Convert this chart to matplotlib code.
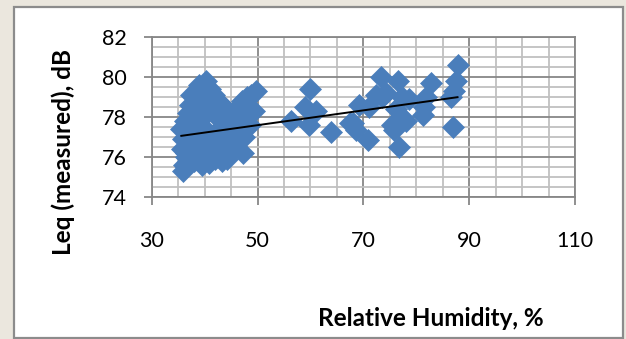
# Scatter of measured Leq against relative humidity, with a linear trend line

import numpy as np
import matplotlib.pyplot as plt
from matplotlib.patches import Rectangle
from matplotlib.ticker import MultipleLocator

# Relative humidity (%) and measured Leq (dB)
humidity = [
    35.9, 36.2, 36.5, 35.8, 36.0, 35.6, 36.3, 36.8, 37.2, 37.5,
    38.3, 39.0, 40.3, 41.0, 41.8, 42.5, 43.2, 44.0, 45.0, 46.0,
    47.0, 48.0, 49.8, 49.4, 48.5, 47.5, 47.2, 46.0, 45.0, 44.2,
    43.2, 42.0, 40.9, 39.5, 38.5, 37.5, 37.0, 38.0, 39.0, 40.0,
    41.0, 39.5, 38.5, 40.5, 41.5, 42.5, 43.5, 44.5, 45.5, 46.5,
    42.0, 43.0, 44.0, 42.8, 41.2, 39.8, 38.3, 37.0, 38.0, 45.5,
    46.8, 48.0, 36.5, 48.7, 47.8,
    36.5, 37.5, 38.5, 39.0, 40.0, 41.0, 42.0, 43.0, 44.0, 45.0,
    46.0, 37.8, 39.5, 40.5, 43.6, 36.8,
    60.0, 59.0, 61.1, 56.4, 59.8, 63.9, 67.4, 69.2, 70.8, 68.6,
    73.3, 72.4, 71.1, 68.0, 74.3, 73.6,
    76.5, 77.4, 76.2, 76.8, 75.8, 76.8, 78.7, 78.0, 77.1, 75.5,
    82.7, 81.8, 81.2, 81.5, 87.8, 87.5, 87.2, 86.6, 86.9,
]
leq = [
    75.3, 75.6, 76.0, 76.4, 76.9, 77.4, 77.8, 78.2, 78.6, 79.1,
    79.3, 79.6, 79.8, 79.4, 79.1, 78.8, 78.6, 78.4, 78.0, 78.4,
    78.8, 79.0, 79.3, 78.3, 77.6, 77.0, 76.2, 76.5, 76.3, 75.9,
    75.8, 75.9, 75.7, 76.0, 76.3, 76.6, 77.2, 77.5, 77.8, 78.2,
    78.6, 78.9, 78.5, 77.3, 77.0, 77.3, 77.6, 77.2, 77.5, 77.8,
    78.1, 78.0, 76.8, 76.5, 76.3, 76.7, 77.0, 75.9, 75.8, 76.9,
    78.2, 78.3, 77.0, 79.1, 78.6,
    76.2, 75.9, 76.8, 76.2, 76.0, 76.9, 76.6, 76.2, 76.4, 76.8,
    77.0, 76.5, 75.6, 76.4, 77.0, 75.7,
    79.4, 78.5, 78.3, 77.8, 77.6, 77.25, 77.7, 78.6, 76.85, 77.35,
    80.0, 79.1, 78.5, 77.7, 79.2, 79.0,
    79.8, 79.0, 78.4, 77.7, 77.35, 76.5, 78.9, 77.8, 78.0, 77.6,
    79.7, 79.0, 78.1, 78.5, 80.6, 79.8, 79.3, 79.0, 77.5,
]
x_ticks = [30, 50, 70, 90, 110]

x = np.array(humidity)
y = np.array(leq)
slope, intercept = np.polyfit(x, y, 1)
xfit = np.array([x.min(), x.max()])

fig = plt.figure(figsize=(6.26, 3.39), dpi=100, facecolor='#ebe7de')
# white chart area with grey frame
fig.patches.append(Rectangle((14 / 626, 1 - 338 / 339), 609 / 626, 331 / 339,
                             transform=fig.transFigure, facecolor='white',
                             edgecolor='#8c8c8c', linewidth=1.6, zorder=-5))

ax = fig.add_axes([0.2423, 0.4198, 0.6762, 0.4696])
ax.set_zorder(2)
ax.set_facecolor('white')
ax.plot(x, y, linestyle='none', marker='D', markersize=11,
        color='#4a7ebb', markeredgecolor='#4a7ebb', markeredgewidth=0.5, zorder=3)
ax.plot(xfit, slope * xfit + intercept, color='black', linewidth=1.4, zorder=4)

ax.set_xlim(30, 110)
ax.set_ylim(74, 82)
ax.set_xticks(x_ticks)
ax.xaxis.set_minor_locator(MultipleLocator(5))
ax.yaxis.set_major_locator(MultipleLocator(2))
ax.yaxis.set_minor_locator(MultipleLocator(0.5))
ax.grid(which='minor', color='#c0c0c0', linewidth=1.3, zorder=1)
ax.grid(which='major', color='#878787', linewidth=1.3, zorder=1)
ax.set_axisbelow(True)
for s in ax.spines.values():
    s.set_color('#878787')
    s.set_linewidth(1.3)

ax.tick_params(which='major', direction='out', length=5.8, width=1.3, color='#878787',
               labelsize=15.5, labelcolor='black')
ax.tick_params(which='minor', length=0)
ax.tick_params(axis='y', pad=12)
ax.tick_params(axis='x', pad=19)
for lab in ax.get_xticklabels() + ax.get_yticklabels():
    lab.set_family('Lato')

fig.text(63 / 626, 1 - 152 / 339, 'Leq (measured), dB', rotation=90, ha='center', va='center',
         fontsize=17.5, fontweight='bold', family='Lato')
fig.text(431 / 626, 1 - 319 / 339, 'Relative Humidity, %', ha='center', va='center',
         fontsize=17.5, fontweight='bold', family='Lato')

fig.savefig('out.png', dpi=100, facecolor=fig.get_facecolor())
